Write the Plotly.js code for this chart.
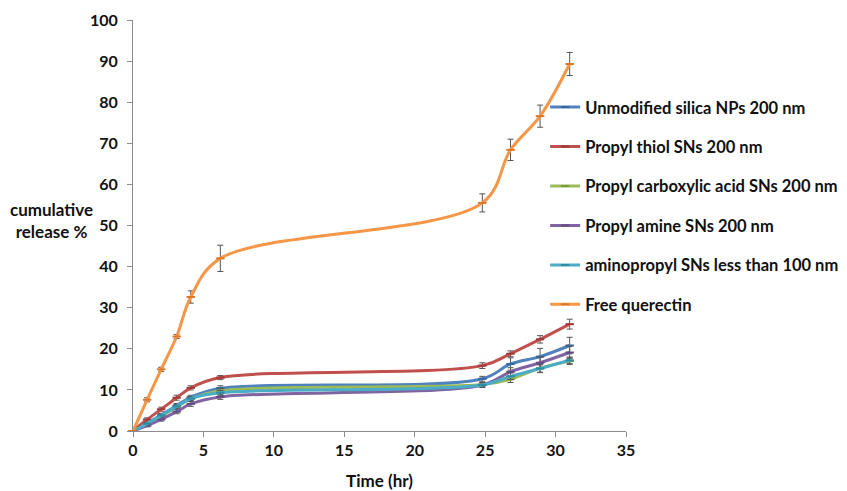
<!DOCTYPE html>
<html>
<head>
<meta charset="utf-8">
<script src="https://cdn.plot.ly/plotly-3.0.1.min.js"></script>
<style>html,body{margin:0;padding:0;background:#fff;}#chart{width:847px;height:491px;}</style>
</head>
<body>
<div id="chart"></div>
<script>
// Time points as read against the x axis (hr)
var timeHr = [0, 1, 2, 3.1, 4.1, 6.2, 24.8, 26.8, 28.9, 31];

var seriesNames = [
  "Unmodified silica NPs 200 nm",
  "Propyl thiol SNs 200 nm",
  "Propyl carboxylic acid SNs 200 nm",
  "Propyl amine SNs 200 nm",
  "aminopropyl SNs less than 100 nm",
  "Free querectin"
];

var unmodified   = [0, 1.9, 3.9, 6.2, 8.2, 10.4, 12.7, 16.3, 18.1, 20.8];
var propylThiol  = [0, 2.8, 5.3, 8.1, 10.5, 13.0, 15.9, 18.8, 22.3, 26.0];
var carboxylic   = [0, 1.6, 3.6, 5.8, 7.8, 9.8, 11.3, 12.6, 15.3, 17.0];
var propylAmine  = [0, 1.3, 2.8, 4.7, 6.6, 8.3, 11.2, 14.4, 16.6, 19.1];
var aminopropyl  = [0, 1.8, 3.8, 6.0, 7.9, 9.3, 11.2, 13.3, 15.2, 17.2];
var freeQ        = [0, 7.6, 15.0, 23.0, 32.6, 42.0, 55.5, 68.4, 76.6, 89.3];

var errUnmodified  = [0, 0.3, 0.4, 0.5, 0.5, 0.6, 0.6, 1.5, 2.0, 2.0];
var errThiol       = [0, 0.4, 0.5, 0.6, 0.5, 0.5, 0.7, 0.7, 0.9, 1.2];
var errCarboxylic  = [0, 0.3, 0.4, 0.5, 0.5, 0.6, 0.5, 0.8, 1.0, 0.8];
var errAmine       = [0, 0.3, 0.4, 0.5, 0.6, 0.6, 0.6, 1.0, 1.3, 1.5];
var errAminopropyl = [0, 0.3, 0.4, 0.5, 0.5, 0.6, 0.5, 0.8, 1.0, 0.8];
var errFree        = [0, 0.5, 0.5, 0.5, 1.5, 3.2, 2.2, 2.6, 2.7, 2.8];

var xTickVals = [0, 5, 10, 15, 20, 25, 30, 35];
var yTickVals = [0, 10, 20, 30, 40, 50, 60, 70, 80, 90, 100];

var colors = ["#4F81BD", "#C0504D", "#9BBB59", "#8064A2", "#4BACC6", "#F79646"];
var markerColors = ["#3A6799", "#9C3A37", "#7A9A40", "#634C84", "#2F8BA3", "#D9772A"];
var ys = [unmodified, propylThiol, carboxylic, propylAmine, aminopropyl, freeQ];
var errs = [errUnmodified, errThiol, errCarboxylic, errAmine, errAminopropyl, errFree];

var FONT = "Lato, 'Open Sans', sans-serif";

var traces = ys.map(function (y, i) {
  return {
    type: "scatter",
    mode: "lines+markers",
    name: seriesNames[i],
    legendgroup: "g" + i,
    x: timeHr,
    y: y,
    line: { color: colors[i], width: 3, shape: "spline", smoothing: 1 },
    marker: { symbol: "line-ew", size: 6, color: markerColors[i], line: { color: markerColors[i], width: 2 } },
    error_y: { type: "data", array: errs[i], visible: true, color: "#555555", thickness: 1, width: 3 },
    cliponaxis: false,
    hoverinfo: "skip"
  };
});

var layout = {
  width: 847,
  height: 491,
  margin: { l: 133, r: 221, t: 20, b: 60, autoexpand: false },
  paper_bgcolor: "#ffffff",
  plot_bgcolor: "#ffffff",
  showlegend: true,
  font: { family: FONT, color: "#111111" },
  xaxis: {
    range: [0, 35],
    tickvals: xTickVals,
    ticks: "outside",
    ticklen: 5,
    tickcolor: "#8c8c8c",
    showline: true,
    linecolor: "#8c8c8c",
    linewidth: 1,
    showgrid: false,
    zeroline: false,
    tickfont: { family: FONT, size: 16, weight: "bold", color: "#111111" },
    title: { text: "Time (hr)", font: { family: FONT, size: 17, weight: "bold", color: "#111111" }, standoff: 16 }
  },
  yaxis: {
    range: [0, 100],
    tickvals: yTickVals,
    ticks: "outside",
    ticklen: 5,
    tickcolor: "#8c8c8c",
    showline: true,
    linecolor: "#8c8c8c",
    linewidth: 1,
    showgrid: false,
    zeroline: false,
    ticklabelstandoff: 6,
    tickfont: { family: FONT, size: 16, weight: "bold", color: "#111111" }
  },
  legend: {
    x: 0.836,
    xanchor: "left",
    y: 0.83,
    yanchor: "top",
    bgcolor: "rgba(0,0,0,0)",
    borderwidth: 0,
    tracegroupgap: 15,
    font: { family: FONT, size: 16.5, weight: "bold", color: "#111111" }
  },
  annotations: [{
    xref: "paper", yref: "paper",
    x: -0.166, y: 0.512,
    xanchor: "center", yanchor: "middle",
    text: "cumulative<br>release %",
    showarrow: false,
    align: "center",
    font: { family: FONT, size: 17, weight: "bold", color: "#111111" }
  }],
  hovermode: false
};

Plotly.newPlot("chart", traces, layout, { displayModeBar: false, staticPlot: true });
</script>
</body>
</html>
